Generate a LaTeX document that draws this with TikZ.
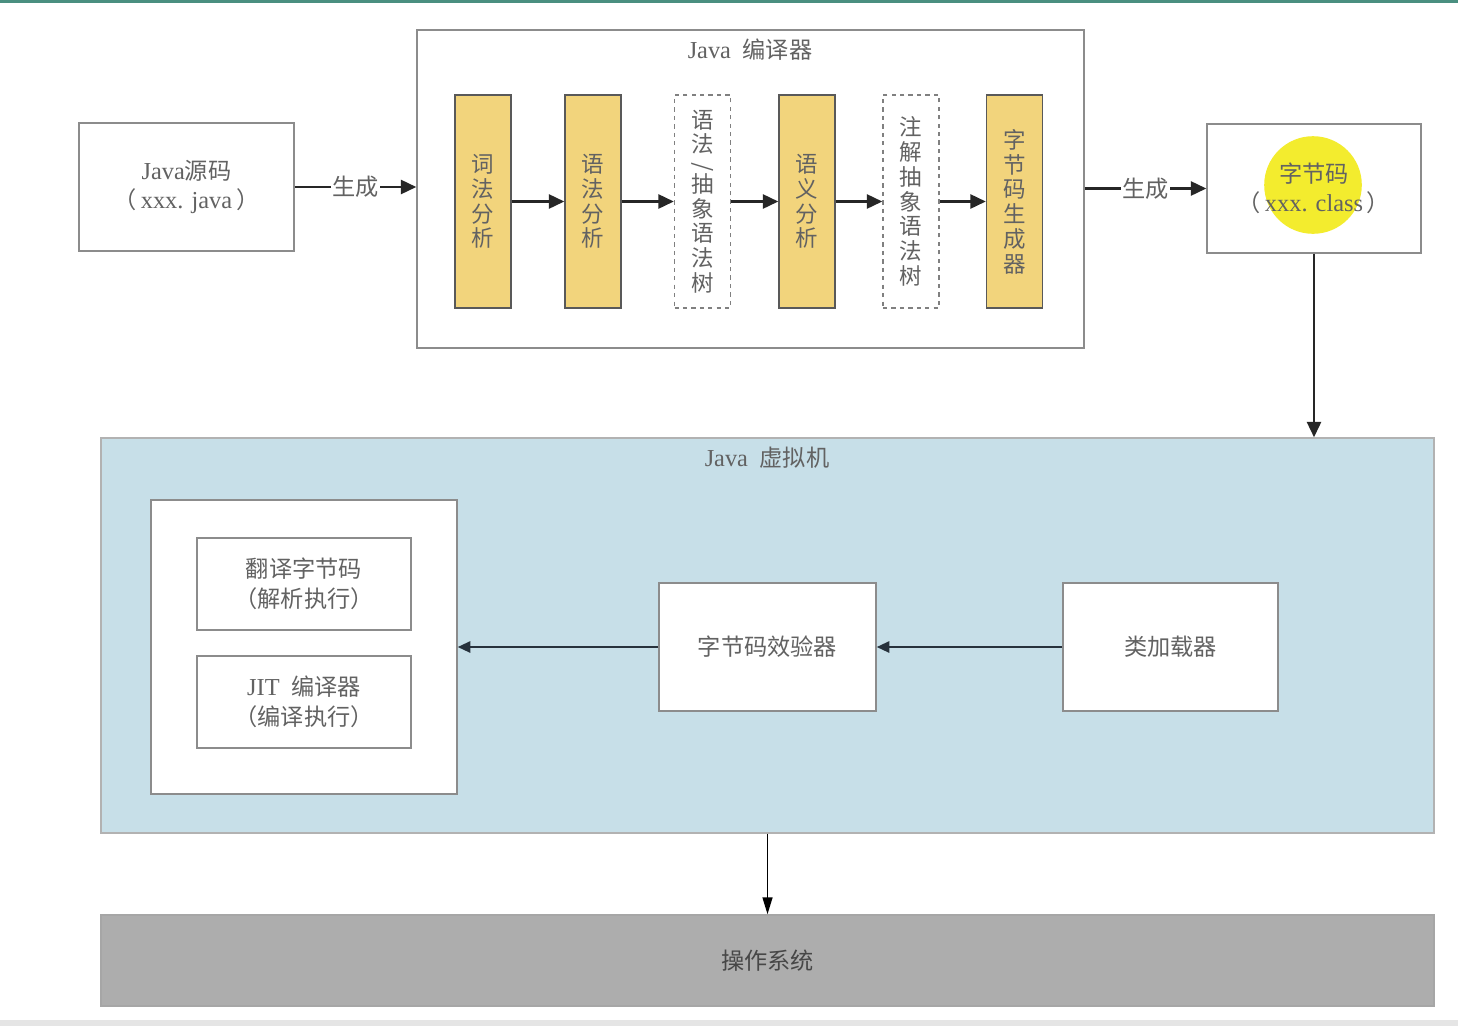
\documentclass[tikz,border=0pt]{standalone}
\usepackage{fontspec}
\newfontfamily\cjk{Noto Sans CJK SC}
\newfontfamily\lat[Scale=1.05]{Liberation Serif}
\usetikzlibrary{arrows.meta}
\definecolor{txt}{HTML}{626262}
\definecolor{stagefill}{HTML}{F2D47C}
\definecolor{jvmfill}{HTML}{C7DFE8}
\definecolor{osfill}{HTML}{ADADAD}
\definecolor{boxline}{HTML}{8C8C8C}
\definecolor{hilite}{HTML}{F3EC2E}
\definecolor{chrome}{HTML}{4A8F80}
\definecolor{jvmarrow}{HTML}{27323C}
\def\pu{0.025cm}
\begin{document}
\begin{tikzpicture}[x=0.025cm,y=-0.025cm,
  box/.style={draw=boxline, line width=1pt, fill=white, inner sep=0pt, text=txt,
    align=center, font=\cjk\fontsize{16.5}{21}\selectfont},
  stage/.style={box, fill=stagefill, draw=gray!70!black, minimum width=56*\pu,
    minimum height=213*\pu, font=\cjk\fontsize{16}{17.6}\selectfont},
  dstage/.style={stage, fill=white, dashed, draw=gray},
  flow/.style={-{Triangle[length=11pt,width=10pt]}, line width=1.8pt, black!85},
  flowthin/.style={-{Triangle[length=9pt,width=8pt]}, line width=1.5pt, jvmarrow},
  lab/.style={fill=white, inner sep=1pt, text=txt, font=\cjk\fontsize{16.5}{18}\selectfont},
  title/.style={text=txt, inner sep=1pt, font=\cjk\fontsize{16.5}{18}\selectfont}
]
\useasboundingbox (0,0) rectangle (1458,1026);
\fill[white] (0,0) rectangle (1458,1026);
\fill[chrome] (0,0) rectangle (1458,3);
\fill[gray!20] (0,1020) rectangle (1458,1026);

% source
\node[box, minimum width=215*\pu, minimum height=128*\pu] (src) at (186.5,187)
  {{\lat Java}源码\\（\,{\lat xxx. java}\,）};

% compiler
\node[box, minimum width=667*\pu, minimum height=318*\pu] (javac) at (750.5,189) {};
\node[title] (javactitle) at (750,50) {{\lat Java}\enspace 编译器};
\node[stage]  (s1) at (483,201.5)   {词\\法\\分\\析};
\node[stage]  (s2) at (593,201.5)   {语\\法\\分\\析};
\node[dstage] (s3) at (702.5,201.5) {语\\法\\[-4pt]\rotatebox{90}{/}\\[-3pt]抽\\象\\语\\法\\树};
\node[stage]  (s4) at (807,201.5)   {语\\义\\分\\析};
\node[dstage] (s5) at (911,201.5)   {注\\解\\抽\\象\\语\\法\\树};
\node[stage]  (s6) at (1014.5,201.5){字\\节\\码\\生\\成\\器};

% bytecode
\node[box, minimum width=214*\pu, minimum height=129*\pu,
  path picture={\fill[hilite] (path picture bounding box.center) ++(-1,-3.5) circle[radius=1.22cm];}]
  (cls) at (1314,188.5) {字节码\\（\,{\lat xxx. class}\,）};

% JVM
\node[box, fill=jvmfill, draw=gray!60, minimum width=1333*\pu, minimum height=395*\pu] (jvm) at (767.5,635.5) {};
\node[title] (jvmtitle) at (767,458) {{\lat Java}\enspace 虚拟机};
\node[box, minimum width=306*\pu, minimum height=294*\pu] (exec) at (304,647) {};
\node[box, minimum width=214*\pu, minimum height=92*\pu] (interp) at (304,584) {翻译字节码\\（解析执行）};
\node[box, minimum width=214*\pu, minimum height=92*\pu] (jit) at (304,702) {{\lat JIT}\enspace 编译器\\（编译执行）};
\node[box, minimum width=217*\pu, minimum height=128*\pu] (verifier) at (767.5,647) {字节码效验器};
\node[box, minimum width=215*\pu, minimum height=128*\pu] (loader) at (1170.5,647) {类加载器};

% OS
\node[box, fill=osfill, draw=gray!70, text=black!72, minimum width=1333*\pu, minimum height=91*\pu] (os) at (767.5,960.5) {操作系统};

% connectors
\draw[flow] (src.east) -- node[lab]{生成} (src.east -| javac.west);
\draw[flow] (s1) -- (s2);
\draw[flow] (s2) -- (s3);
\draw[flow] (s3) -- (s4);
\draw[flow] (s4) -- (s5);
\draw[flow] (s5) -- (s6);
\draw[flow] (cls.west -| javac.east) -- node[lab]{生成} (cls.west);
\draw[flow] (cls.south) -- (cls.south |- jvm.north);
\draw[flowthin] (loader) -- (verifier);
\draw[flowthin] (verifier) -- (exec);
\draw[-{Triangle[length=12pt,width=7pt]}, line width=1.2pt, black] (jvm.south) -- (os.north);
\end{tikzpicture}
\end{document}
